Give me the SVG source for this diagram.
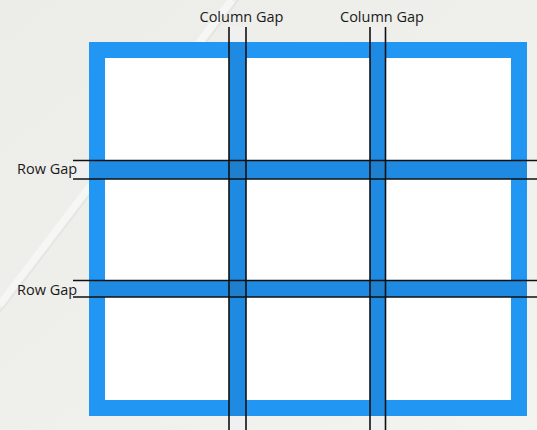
<svg xmlns="http://www.w3.org/2000/svg" width="537" height="430" viewBox="0 0 537 430">
  <defs>
    <linearGradient id="bg" x1="0" y1="0" x2="1" y2="1">
      <stop offset="0" stop-color="#ecece8"/>
      <stop offset="0.5" stop-color="#efefeb"/>
      <stop offset="1" stop-color="#f3f3ef"/>
    </linearGradient>
    <style>
      .lbl { font-family: "Open Sans", "Liberation Sans", sans-serif; font-size: 14.5px; fill: #1a1a1a; }
      .gline { stroke: #111; stroke-width: 1.6; fill: none; }
      .gap { fill: #1f8ae2; }
      .gapout { fill: #f0f0f0; }
      .cross { fill: #1e7fcf; }
    </style>
  </defs>
  <rect width="537" height="430" fill="url(#bg)"/>
  <path d="M232 0 L0 305" stroke="#f8f8f6" stroke-width="8" opacity="0.8" fill="none"/>
  <path d="M238 0 L0 312" stroke="#dcdcd8" stroke-width="2" opacity="0.5" fill="none"/>

  <g id="grid-container">
    <rect x="89" y="42" width="438" height="374" fill="#2196f3"/>
    <rect x="105" y="58" width="406" height="342" fill="#ffffff"/>
  </g>

  <g id="column-gap-1">
    <rect class="gapout" x="229" y="27" width="17" height="15"/>
    <rect class="gapout" x="229" y="416" width="17" height="14"/>
    <rect class="gap" x="229" y="42" width="17" height="374"/>
  </g>
  <g id="column-gap-2">
    <rect class="gapout" x="370" y="27" width="15.5" height="15"/>
    <rect class="gapout" x="370" y="416" width="15.5" height="14"/>
    <rect class="gap" x="370" y="42" width="15.5" height="374"/>
  </g>
  <g id="row-gap-1">
    <rect class="gapout" x="73" y="160.5" width="16" height="18.5"/>
    <rect class="gapout" x="527" y="160.5" width="10" height="18.5"/>
    <rect class="gap" x="89" y="160.5" width="438" height="18.5"/>
  </g>
  <g id="row-gap-2">
    <rect class="gapout" x="73" y="280.5" width="16" height="16.5"/>
    <rect class="gapout" x="527" y="280.5" width="10" height="16.5"/>
    <rect class="gap" x="89" y="280.5" width="438" height="16.5"/>
  </g>
  <g id="intersections">
    <rect class="cross" x="229" y="160.5" width="17" height="18.5"/>
    <rect class="cross" x="370" y="160.5" width="15.5" height="18.5"/>
    <rect class="cross" x="229" y="280.5" width="17" height="16.5"/>
    <rect class="cross" x="370" y="280.5" width="15.5" height="16.5"/>
  </g>

  <g id="connectors">
    <line class="gline" x1="229" y1="27" x2="229" y2="430"/>
    <line class="gline" x1="246" y1="27" x2="246" y2="430"/>
    <line class="gline" x1="370" y1="27" x2="370" y2="430"/>
    <line class="gline" x1="385.5" y1="27" x2="385.5" y2="430"/>
    <line class="gline" x1="73" y1="160.5" x2="537" y2="160.5"/>
    <line class="gline" x1="73" y1="179" x2="537" y2="179"/>
    <line class="gline" x1="73" y1="280.5" x2="537" y2="280.5"/>
    <line class="gline" x1="73" y1="297" x2="537" y2="297"/>
  </g>

  <g id="labels">
    <text class="lbl" x="241.5" y="22" text-anchor="middle">Column Gap</text>
    <text class="lbl" x="382" y="22" text-anchor="middle">Column Gap</text>
    <text class="lbl" x="17" y="174">Row Gap</text>
    <text class="lbl" x="17" y="295">Row Gap</text>
  </g>
</svg>
